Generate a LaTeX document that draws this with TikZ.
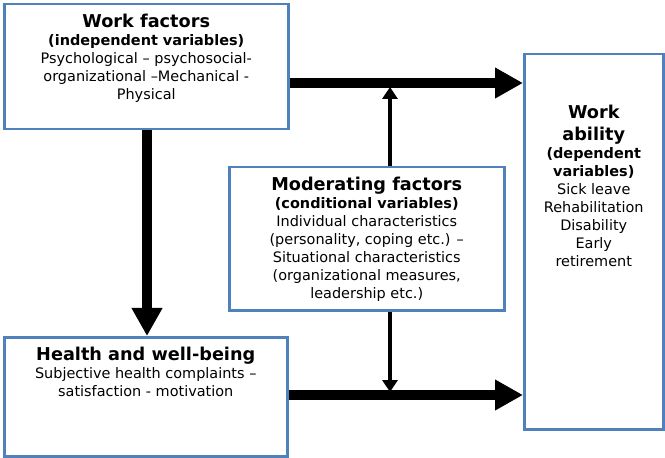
\documentclass[tikz,border=0pt]{standalone}
\usepackage{fontspec}
\setmainfont{DejaVu Sans}
\usetikzlibrary{arrows.meta, positioning}
\definecolor{boxblue}{RGB}{79,129,189}

\tikzset{
    box/.style={draw=boxblue, line width=2.5bp, fill=white, inner sep=0, anchor=north west},
    boxtext/.style={anchor=north, inner sep=0, align=center, font=\fontsize{14.5}{18}\selectfont},
    bigarrow/.style={line width=10bp, -{Triangle[width=29bp,length=28bp]}},
    smallarrow/.style={line width=4bp, -{Triangle[width=15bp,length=12bp]}},
}
\newcommand{\boxtitle}[1]{{\fontsize{17.75}{18}\selectfont\bfseries #1}}
\newcommand{\boxsub}[1]{{\bfseries #1}}

\begin{document}
\begin{tikzpicture}[x=1bp, y=-1bp]
    \useasboundingbox (0,0) rectangle (665,458);

    % boxes
    \node[box, minimum width=284bp, minimum height=125bp] (work) at (3,3) {};
    \node[box, minimum width=275bp, minimum height=143bp] (mod) at (228,166) {};
    \node[box, minimum width=283bp, minimum height=119bp] (health) at (3,336) {};
    \node[box, minimum width=139bp, minimum height=375bp] (ability) at (523,53) {};

    % texts
    \node[boxtext, below=11bp of work.north] (worktext)
        {\boxtitle{Work factors}\\ \boxsub{(independent variables)}\\
         Psychological – psychosocial-\\ organizational –Mechanical -\\ Physical};
    \node[boxtext, below=11bp of mod.north] (modtext)
        {\boxtitle{Moderating factors}\\ \boxsub{(conditional variables)}\\
         Individual characteristics\\ (personality, coping etc.) –\\
         Situational characteristics\\ (organizational measures,\\ leadership etc.)};
    \node[boxtext, below=11bp of health.north] (healthtext)
        {\boxtitle{Health and well-being}\\
         Subjective health complaints –\\ satisfaction - motivation};
    \node[boxtext, below=52bp of ability.north] (abilitytext)
        {\boxtitle{Work}\\[4bp] \boxtitle{ability}\\ \boxsub{(dependent}\\ \boxsub{variables)}\\
         Sick leave\\ Rehabilitation\\ Disability\\ Early\\ retirement};

    % arrows
    \coordinate (topy) at (0,83);
    \coordinate (boty) at (0,395);
    \coordinate (workx) at (147,0);
    \coordinate (modx) at (390,0);
    \draw[bigarrow] (work.south -| workx) -- (health.north -| workx);
    \draw[bigarrow] (work.east |- topy) -- (ability.west |- topy);
    \draw[bigarrow] (health.east |- boty) -- (ability.west |- boty);
    \draw[smallarrow, shorten >=4bp] (mod.north -| modx) -- (modx |- topy);
    \draw[smallarrow, shorten >=3bp] (mod.south -| modx) -- (modx |- boty);
\end{tikzpicture}
\end{document}
